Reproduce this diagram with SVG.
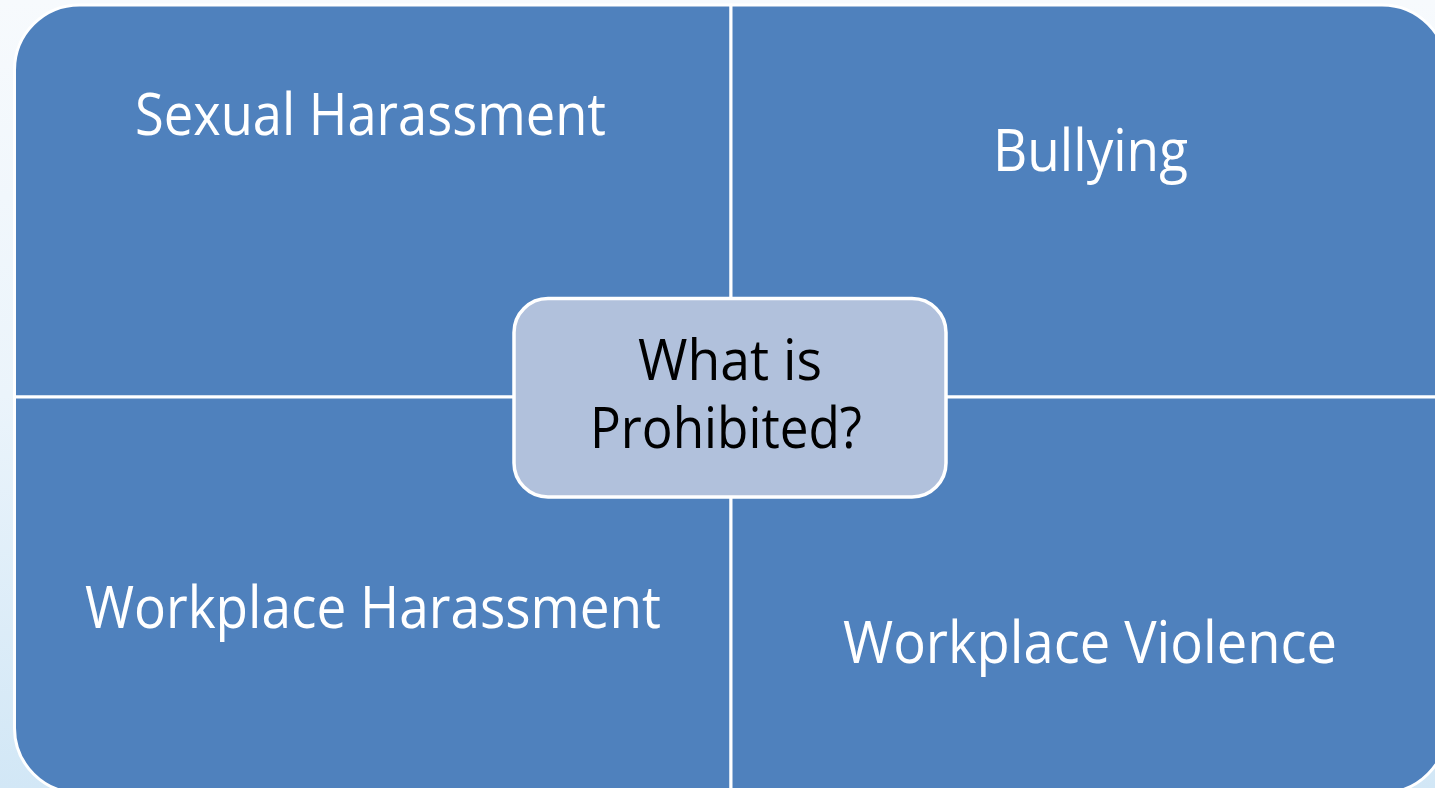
<svg xmlns="http://www.w3.org/2000/svg" width="1435" height="788" viewBox="0 0 1435 788">
  <defs>
    <linearGradient id="bg" x1="0" y1="0" x2="0" y2="1">
      <stop offset="0" stop-color="#f7fafd"/>
      <stop offset="0.5" stop-color="#ebf4fb"/>
      <stop offset="1" stop-color="#d2e7f6"/>
    </linearGradient>
    <style>
      .quad { fill: #4f81bd; stroke: #ffffff; stroke-width: 3; }
      .hub { fill: #b1c1dc; stroke: #ffffff; stroke-width: 3.5; }
      .qlabel { font-family: "Open Sans", "Noto Sans", sans-serif; font-size: 58px; fill: #ffffff; text-anchor: middle; }
      .hlabel { font-family: "Open Sans", "Noto Sans", sans-serif; font-size: 56px; fill: #000000; text-anchor: middle; }
    </style>
  </defs>

  <!-- backdrop -->
  <rect x="0" y="0" width="1435" height="788" fill="url(#bg)"/>

  <!-- quadrant: top left -->
  <g id="sexual-harassment">
    <path class="quad" d="M14.5,397 V70 A65,65 0 0 1 79.5,5 H731 V397 Z"/>
    <text class="qlabel" x="370.5" y="135" textLength="471" lengthAdjust="spacingAndGlyphs">Sexual Harassment</text>
  </g>

  <!-- quadrant: top right -->
  <g id="bullying">
    <path class="quad" d="M731,5 H1382 A65,65 0 0 1 1447,70 V397 H731 Z"/>
    <text class="qlabel" x="1090.5" y="171" textLength="195" lengthAdjust="spacingAndGlyphs">Bullying</text>
  </g>

  <!-- quadrant: bottom left -->
  <g id="workplace-harassment">
    <path class="quad" d="M14.5,397 H731 V793 H79.5 A65,65 0 0 1 14.5,728 Z"/>
    <text class="qlabel" x="373" y="628" textLength="576" lengthAdjust="spacingAndGlyphs">Workplace Harassment</text>
  </g>

  <!-- quadrant: bottom right -->
  <g id="workplace-violence">
    <path class="quad" d="M731,397 H1447 V728 A65,65 0 0 1 1382,793 H731 Z"/>
    <text class="qlabel" x="1090" y="663" textLength="494" lengthAdjust="spacingAndGlyphs">Workplace Violence</text>
  </g>

  <!-- centre hub -->
  <g id="what-is-prohibited">
    <rect class="hub" x="514" y="298.5" width="432" height="198.5" rx="34" ry="34"/>
    <text class="hlabel" x="730" y="380" textLength="184" lengthAdjust="spacingAndGlyphs">What is</text>
    <text class="hlabel" x="726" y="448" textLength="272" lengthAdjust="spacingAndGlyphs">Prohibited?</text>
  </g>

  <!-- connectors: none drawn, the matrix cells touch directly -->
  <g id="connectors"/>
</svg>
